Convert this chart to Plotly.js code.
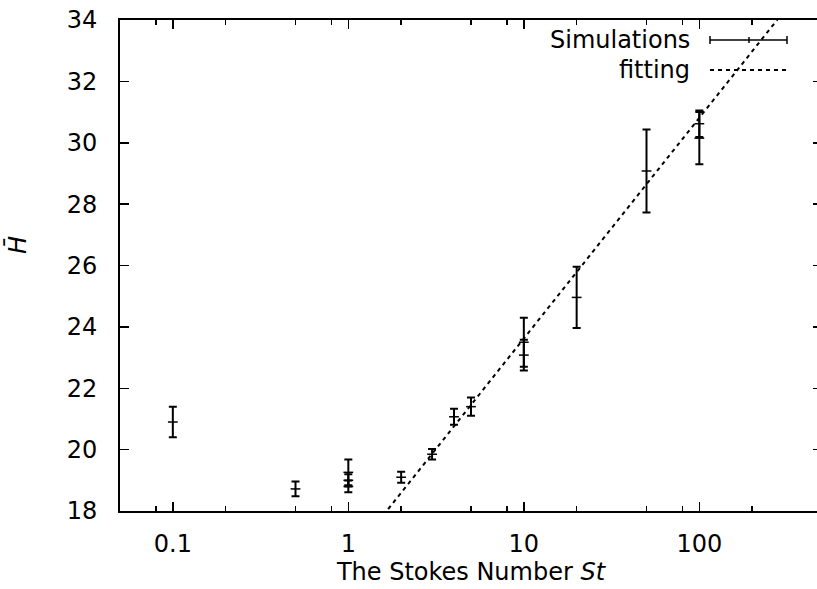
<!DOCTYPE html>
<html>
<head>
<meta charset="utf-8">
<script src="https://cdn.plot.ly/plotly-3.0.1.min.js"></script>
<style>
html, body { margin:0; padding:0; overflow:hidden; background:#fff; }
#chart { width:830px; height:589px; }
</style>
</head>
<body>
<div id="chart"></div>
<script>
// ---- data ----
const stokes   = [0.1, 0.5, 1, 1, 1, 2, 3, 4, 5, 10, 10, 20, 50, 100, 100];
const hBar     = [20.9, 18.72, 19.26, 19.0, 18.8, 19.1, 19.85, 21.07, 21.4, 23.5, 23.08, 24.96, 29.08, 30.62, 30.15];
const hErr     = [0.5, 0.24, 0.42, 0.2, 0.19, 0.18, 0.17, 0.26, 0.3, 0.8, 0.5, 1.0, 1.35, 0.43, 0.85];
const fitX     = [1, 500];
const fitY     = [16.43, 35.84];
const xTickVals  = [0.1, 1, 10, 100];
const xTickText  = ['0.1', '1', '10', '100'];
const xMinorVals = [0.08, 0.2, 0.5, 0.8, 2, 5, 8, 20, 50, 80, 200];
const yTickVals  = [18, 20, 22, 24, 26, 28, 30, 32, 34];
const legendLabels = ['Simulations', 'fitting'];

// ---- layout geometry (pixels) ----
const W = 830, Hgt = 589;
const M = {l: 120, r: 8, t: 20, b: 78};
const plotW = W - M.l - M.r, plotH = Hgt - M.t - M.b;
const px = x => (x - M.l) / plotW;          // pixel -> paper x
const py = y => (Hgt - M.b - y) / plotH;    // pixel -> paper y

const FONT = 'DejaVu Sans, sans-serif';

const traces = [
  {
    type: 'scatter', mode: 'markers', x: stokes, y: hBar,
    marker: {symbol: 'line-ew', size: 7, color: '#000', line: {color: '#000', width: 1.5}},
    error_y: {type: 'data', array: hErr, visible: true, color: '#000', thickness: 2, width: 4},
    showlegend: false, cliponaxis: true
  },
  {
    type: 'scatter', mode: 'lines', x: fitX, y: fitY,
    line: {color: '#000', width: 2, dash: '4px,4px'},
    showlegend: false
  }
];

// legend drawn by hand (gnuplot style key)
const legY = [40, 70];
const sampleX0 = 710, sampleX1 = 787, textRight = 692;
const shapes = [
  {type: 'line', xref: 'paper', yref: 'paper', x0: px(sampleX0), x1: px(sampleX1), y0: py(legY[0]), y1: py(legY[0]), line: {color: '#000', width: 1.5}},
  {type: 'line', xref: 'paper', yref: 'paper', x0: px(sampleX0), x1: px(sampleX0), y0: py(legY[0] - 4), y1: py(legY[0] + 4), line: {color: '#000', width: 1.5}},
  {type: 'line', xref: 'paper', yref: 'paper', x0: px(sampleX1), x1: px(sampleX1), y0: py(legY[0] - 4), y1: py(legY[0] + 4), line: {color: '#000', width: 1.5}},
  {type: 'line', xref: 'paper', yref: 'paper', x0: px(749), x1: px(749), y0: py(legY[0] - 3), y1: py(legY[0] + 3), line: {color: '#000', width: 1.5}},
  {type: 'line', xref: 'paper', yref: 'paper', x0: px(sampleX0), x1: px(sampleX1), y0: py(legY[1]), y1: py(legY[1]), line: {color: '#000', width: 2, dash: '4px,4px'}}
];

const annotations = [
  {text: legendLabels[0], xref: 'paper', yref: 'paper', x: px(textRight), y: py(legY[0]), xanchor: 'right', yanchor: 'middle', showarrow: false, font: {family: FONT, size: 24, color: '#000'}},
  {text: legendLabels[1], xref: 'paper', yref: 'paper', x: px(textRight), y: py(legY[1]), xanchor: 'right', yanchor: 'middle', showarrow: false, font: {family: FONT, size: 24, color: '#000'}},
  {text: '<i>H\u0304</i>', xref: 'paper', yref: 'paper', x: px(18), y: py(245), xanchor: 'center', yanchor: 'middle', textangle: -90, showarrow: false, font: {family: FONT, size: 24, color: '#000'}}
];

const layout = {
  width: W, height: Hgt,
  margin: M,
  paper_bgcolor: '#fff', plot_bgcolor: '#fff',
  font: {family: FONT, size: 24, color: '#000'},
  showlegend: false,
  xaxis: {
    type: 'log', range: [Math.log10(0.05), Math.log10(500)],
    tickmode: 'array', tickvals: xTickVals, ticktext: xTickText,
    ticks: 'inside', ticklen: 9, tickwidth: 1.5, tickcolor: '#000',
    minor: {tickmode: 'array', tickvals: xMinorVals, ticks: 'inside', ticklen: 5, tickwidth: 1.5, tickcolor: '#000', showgrid: false},
    showline: true, linecolor: '#000', linewidth: 2, mirror: 'ticks',
    showgrid: false, zeroline: false,
    ticklabelstandoff: 10,
    tickfont: {family: FONT, size: 24, color: '#000'},
    title: {text: 'The Stokes Number <i>St</i>', font: {family: FONT, size: 24, color: '#000'}, standoff: 4}
  },
  yaxis: {
    range: [18, 34],
    tickmode: 'array', tickvals: yTickVals,
    ticks: 'inside', ticklen: 9, tickwidth: 1.5, tickcolor: '#000',
    showline: true, linecolor: '#000', linewidth: 2, mirror: 'ticks',
    showgrid: false, zeroline: false,
    ticklabelstandoff: 16,
    tickfont: {family: FONT, size: 24, color: '#000'}
  },
  shapes: shapes,
  annotations: annotations
};

Plotly.newPlot('chart', traces, layout, {staticPlot: true, displayModeBar: false});
</script>
</body>
</html>
